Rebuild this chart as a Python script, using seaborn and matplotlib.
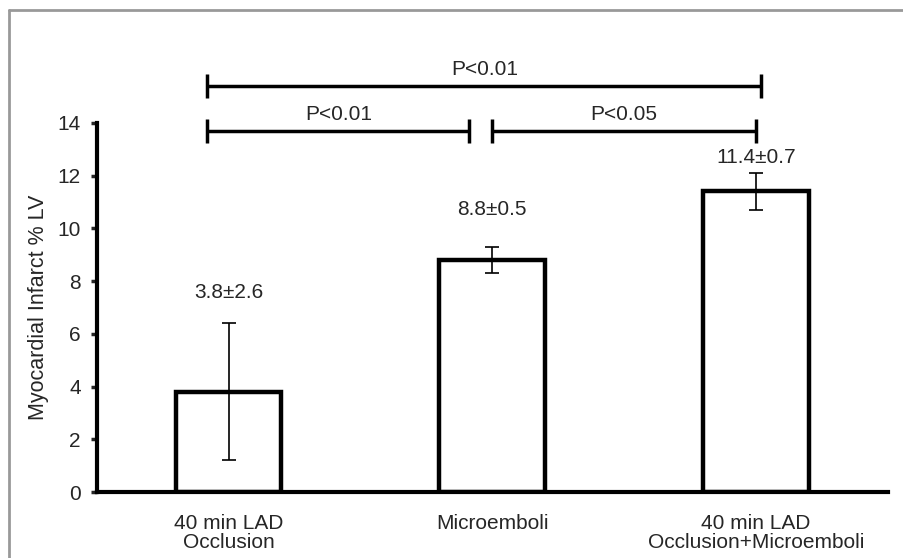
import numpy as np
import pandas as pd
import matplotlib
matplotlib.use("Agg")
import matplotlib.pyplot as plt
from matplotlib.lines import Line2D
import seaborn as sns

# Datos
categories = ["40 min LAD\nOcclusion", "Microemboli", "40 min LAD\nOcclusion+Microemboli"]
means = [3.8, 8.8, 11.4]
sds = [2.6, 0.5, 0.7]
value_labels = ["3.8±2.6", "8.8±0.5", "11.4±0.7"]

# Comparaciones (indices de grupos) y etiquetas de significancia
bracket_from = [0, 0, 1]
bracket_to = [2, 1, 2]
bracket_labels = ["P<0.01", "P<0.01", "P<0.05"]

# Ajustes de posicion (layout)
label_y = [7.55, 10.7, 12.7]
bracket_y = [15.4, 13.7, 13.7]
bracket_x_adj = [(-0.08, 0.02), (-0.08, -0.087), (0.0, 0.0)]

df = pd.DataFrame({"grupo": categories, "infarto": means})

sns.set_style("white")
plt.rcParams["font.family"] = ["Liberation Sans", "DejaVu Sans"]

fig = plt.figure(figsize=(9.04, 5.58), dpi=100)
ax = fig.add_axes([0.107, 0.118, 0.875, 0.662])

sns.barplot(data=df, x="grupo", y="infarto", ax=ax, color="white",
            edgecolor="black", linewidth=3.2, width=0.4, errorbar=None)

x = np.arange(len(categories))
ax.errorbar(x, means, yerr=sds, fmt="none", ecolor="black",
            elinewidth=1.2, capsize=4.7, capthick=1.2)

for xi, txt, yy in zip(x, value_labels, label_y):
    ax.text(xi, yy, txt, ha="center", va="center", fontsize=15)

# Corchetes de significancia
for a, b, lab, yy, (da, db) in zip(bracket_from, bracket_to, bracket_labels,
                                   bracket_y, bracket_x_adj):
    x0, x1 = a + da, b + db
    ax.plot([x0, x1], [yy, yy], color="black", lw=2.5, clip_on=False,
            solid_capstyle="butt")
    for xe in (x0, x1):
        ax.plot([xe, xe], [yy - 0.45, yy + 0.45], color="black", lw=2.5,
                clip_on=False, solid_capstyle="butt")
    ax.text((x0 + x1) / 2, yy + 0.6, lab, ha="center", va="center",
            fontsize=15)

ax.set_xlim(-0.5, 2.5)
ax.set_ylim(0, 14)
ax.set_yticks(range(0, 15, 2))
ax.set_xlabel("")
ax.set_ylabel("Myocardial Infarct % LV", fontsize=15.5, labelpad=6)

for s in ["top", "right"]:
    ax.spines[s].set_visible(False)
for s in ["left", "bottom"]:
    ax.spines[s].set_linewidth(3)
    ax.spines[s].set_color("black")

ax.tick_params(axis="y", direction="out", length=4.5, width=2.5,
               labelsize=15, pad=7, left=True)
ax.tick_params(axis="x", length=0, labelsize=15, pad=16)
for t in ax.get_xticklabels():
    t.set_linespacing(1.0)
    t.set_va("top")

# Marco gris de la figura
fig.add_artist(Line2D([9 / 904, 1.0], [1 - 10 / 558, 1 - 10 / 558],
                      transform=fig.transFigure, color="#999999", lw=2))
fig.add_artist(Line2D([9 / 904, 9 / 904], [0, 1 - 10 / 558],
                      transform=fig.transFigure, color="#999999", lw=2))

fig.savefig("out.png", dpi=100)
